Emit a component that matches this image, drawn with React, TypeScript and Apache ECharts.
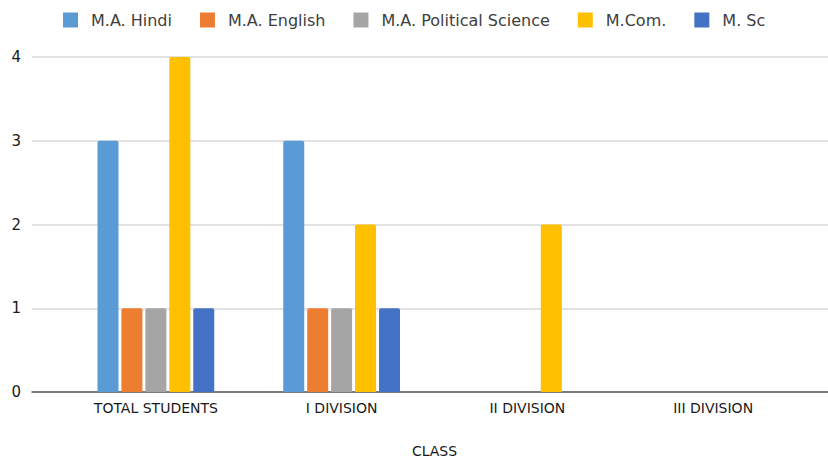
import React, { useEffect, useRef } from "react";
import * as echarts from "echarts";

const categories = ["TOTAL STUDENTS", "I DIVISION", "II DIVISION", "III DIVISION"];
const seriesNames = ["M.A. Hindi", "M.A. English", "M.A. Political Science", "M.Com.", "M. Sc"];
const hindi = [3, 3, 0, 0];
const english = [1, 1, 0, 0];
const political = [1, 1, 0, 0];
const mcom = [4, 2, 2, 0];
const msc = [1, 1, 0, 0];
const colors = ["#5B9BD5", "#ED7D31", "#A5A5A5", "#FFC000", "#4472C4"];
const yTicks = [0, 1, 2, 3, 4];
const axisName = "CLASS";

export default function App() {
  const ref = useRef<HTMLDivElement>(null);
  useEffect(() => {
    if (!ref.current) return;
    const chart = echarts.init(ref.current, null, { renderer: "svg" });
    const font = "DejaVu Sans";
    const values = [hindi, english, political, mcom, msc];
    chart.setOption({
      animation: false,
      backgroundColor: "#ffffff",
      textStyle: { fontFamily: font },
      legend: {
        top: 7,
        left: 58,
        icon: "rect",
        itemWidth: 15,
        itemHeight: 15,
        itemGap: 28,
        textStyle: { fontSize: 16, color: "#404040", fontFamily: font, padding: [0, 0, 0, 8] },
        data: seriesNames,
      },
      grid: [
        { left: 32, right: 0, top: 57, bottom: 69, outerBoundsMode: "none", containLabel: false },
        { left: 63, right: 22, top: 57, bottom: 69, outerBoundsMode: "none", containLabel: false },
      ],
      xAxis: [
        {
          gridIndex: 0,
          type: "value",
          min: 0,
          max: 1,
          axisLabel: { show: false },
          axisTick: { show: false },
          splitLine: { show: false },
          axisLine: { show: true, onZero: false, lineStyle: { color: "#595959", width: 1.5 } },
        },
        {
          gridIndex: 1,
          type: "category",
          data: categories,
          axisLine: { show: false },
          axisTick: { show: false },
          axisLabel: { fontSize: 14, color: "#1a1a1a", fontFamily: font, margin: 9 },
          name: axisName,
          nameLocation: "middle",
          nameGap: 52,
          nameTextStyle: { fontSize: 14, color: "#1a1a1a", fontFamily: font },
        },
      ],
      yAxis: [
        {
          gridIndex: 0,
          type: "value",
          min: yTicks[0],
          max: yTicks[yTicks.length - 1],
          interval: 1,
          axisLine: { show: false },
          axisTick: { show: false },
          axisLabel: { fontSize: 15, color: "#1a1a1a", fontFamily: font, margin: 11 },
          splitLine: { lineStyle: { color: "#D9D9D9", width: 1.5 } },
        },
        {
          gridIndex: 1,
          type: "value",
          min: yTicks[0],
          max: yTicks[yTicks.length - 1],
          interval: 1,
          show: false,
          splitLine: { show: false },
        },
      ],
      series: seriesNames.map((name, i) => ({
        name,
        type: "bar",
        xAxisIndex: 1,
        yAxisIndex: 1,
        data: values[i],
        barWidth: 21,
        barGap: "14%",
        itemStyle: { color: colors[i], borderRadius: [2, 2, 0, 0] },
      })),
    });
    return () => chart.dispose();
  }, []);
  return (
    <div
      ref={ref}
      style={{ position: "fixed", left: 0, top: 0, width: 828, height: 461 }}
    />
  );
}
